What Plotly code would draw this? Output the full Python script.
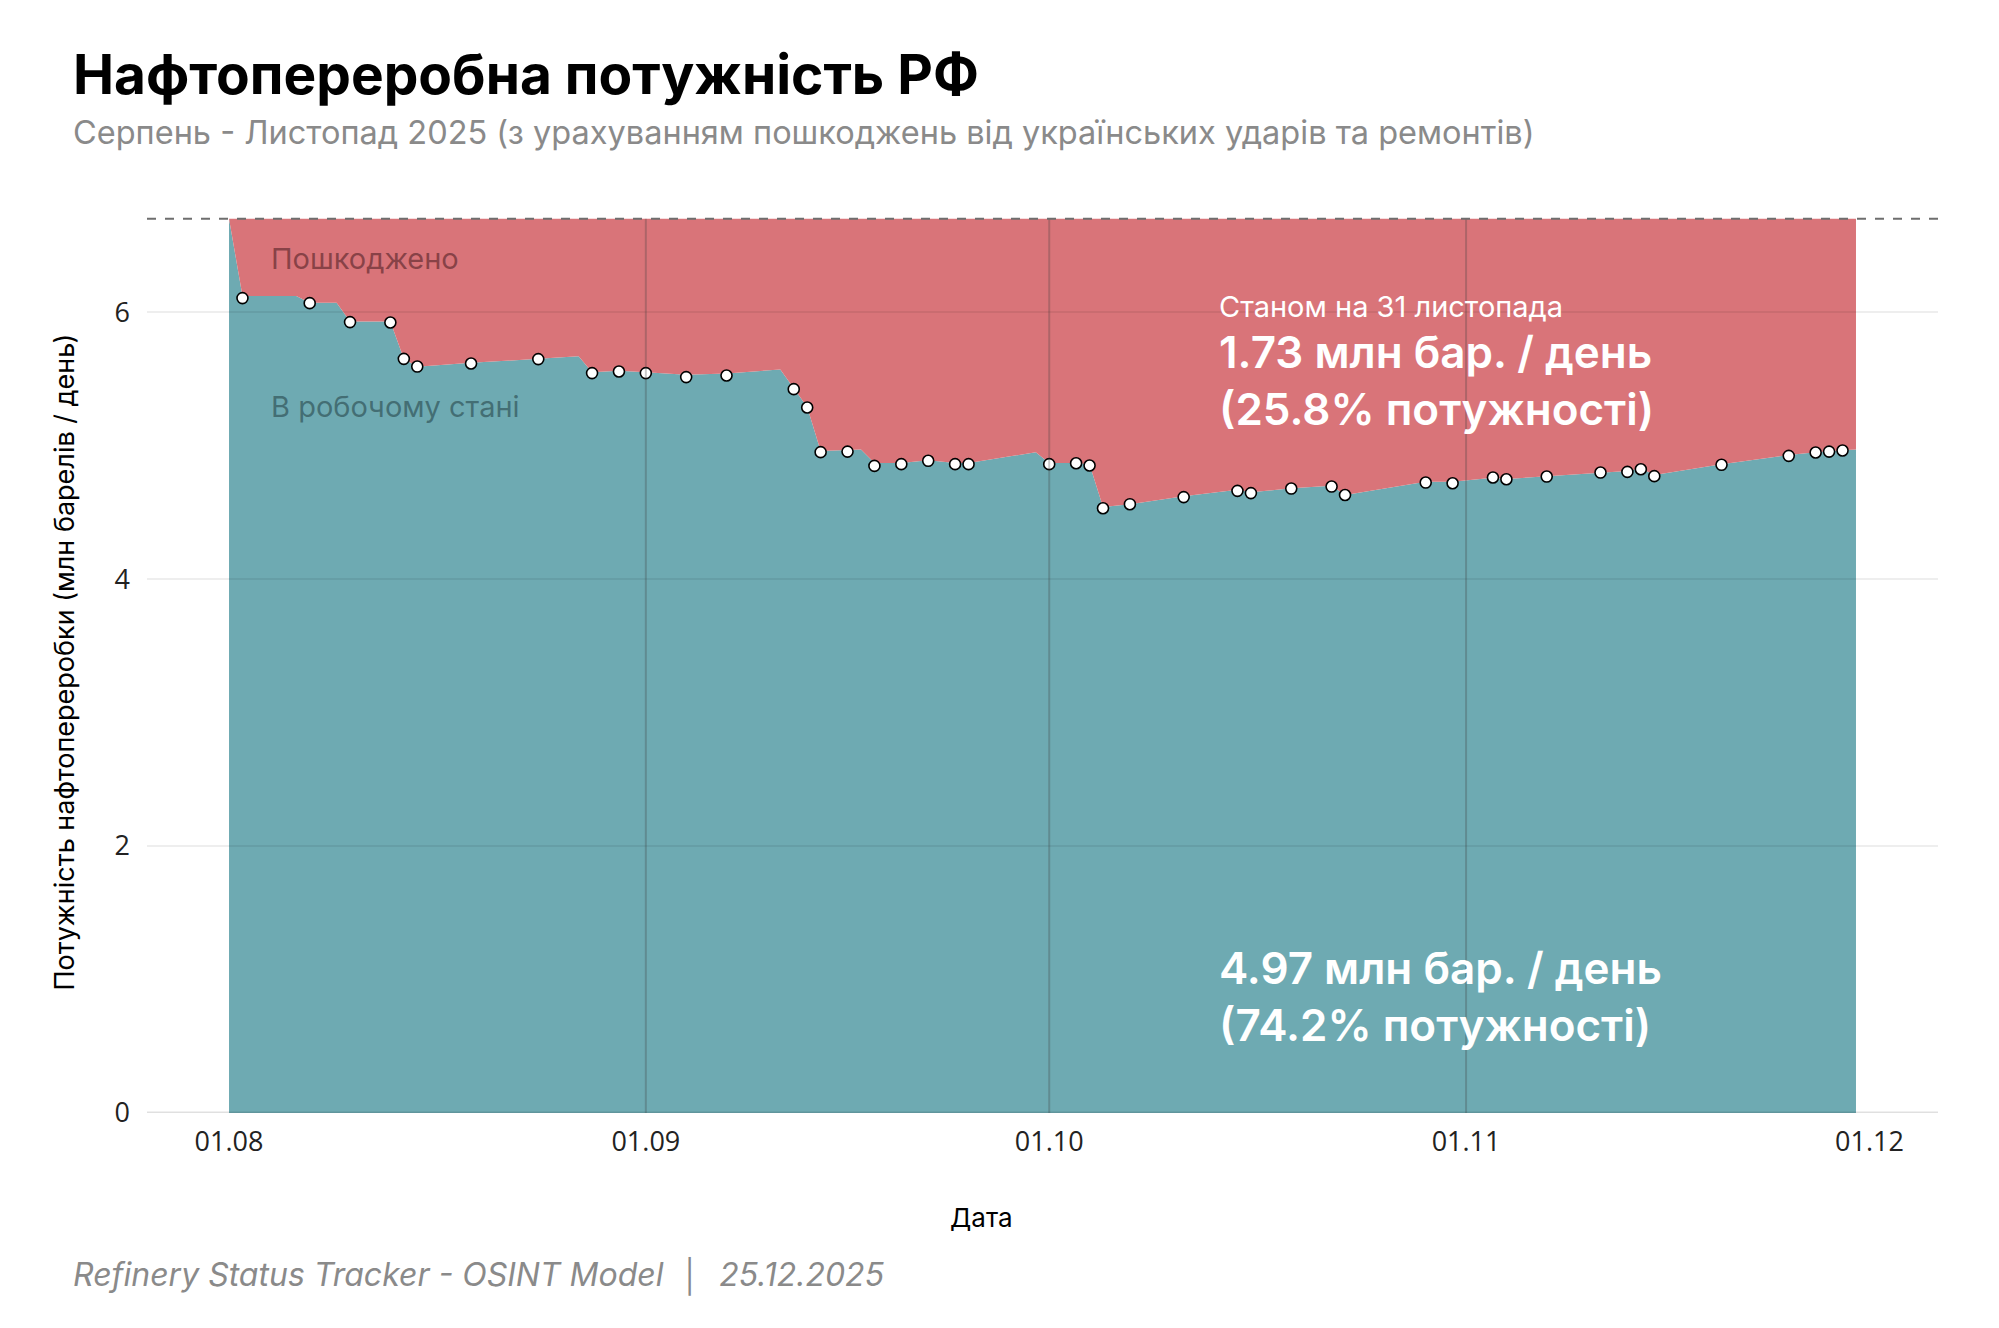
import plotly.graph_objects as go

# ---- data ----
CAPACITY = 6.70

AREA_DATES = [
    "2025-08-01", "2025-08-02", "2025-08-06", "2025-08-07", "2025-08-09", "2025-08-10",
    "2025-08-13", "2025-08-14", "2025-08-15", "2025-08-19", "2025-08-24", "2025-08-27",
    "2025-08-28", "2025-08-30", "2025-09-01", "2025-09-04", "2025-09-07", "2025-09-11",
    "2025-09-12", "2025-09-13", "2025-09-14", "2025-09-16", "2025-09-17", "2025-09-18",
    "2025-09-20", "2025-09-22", "2025-09-24", "2025-09-25", "2025-09-30", "2025-10-01",
    "2025-10-03", "2025-10-04", "2025-10-05", "2025-10-07", "2025-10-11", "2025-10-15",
    "2025-10-16", "2025-10-19", "2025-10-22", "2025-10-23", "2025-10-29", "2025-10-31",
    "2025-11-03", "2025-11-04", "2025-11-07", "2025-11-11", "2025-11-13", "2025-11-14",
    "2025-11-15", "2025-11-20", "2025-11-25", "2025-11-27", "2025-11-28", "2025-11-29",
    "2025-11-30",
]
AREA_VALUES = [
    6.70, 6.12, 6.12, 6.07, 6.07, 5.93,
    5.93, 5.65, 5.59, 5.62, 5.65, 5.67,
    5.55, 5.56, 5.55, 5.53, 5.54, 5.57,
    5.43, 5.29, 4.96, 4.97, 4.97, 4.87,
    4.87, 4.89, 4.87, 4.87, 4.95, 4.87,
    4.87, 4.86, 4.54, 4.56, 4.62, 4.67,
    4.65, 4.68, 4.70, 4.63, 4.73, 4.73,
    4.76, 4.75, 4.77, 4.80, 4.81, 4.83,
    4.78, 4.86, 4.93, 4.95, 4.96, 4.965,
    4.97,
]

MARKER_DATES = [
    "2025-08-02", "2025-08-07", "2025-08-10", "2025-08-13", "2025-08-14", "2025-08-15",
    "2025-08-19", "2025-08-24", "2025-08-28", "2025-08-30", "2025-09-01", "2025-09-04",
    "2025-09-07", "2025-09-12", "2025-09-13", "2025-09-14", "2025-09-16", "2025-09-18",
    "2025-09-20", "2025-09-22", "2025-09-24", "2025-09-25", "2025-10-01", "2025-10-03",
    "2025-10-04", "2025-10-05", "2025-10-07", "2025-10-11", "2025-10-15", "2025-10-16",
    "2025-10-19", "2025-10-22", "2025-10-23", "2025-10-29", "2025-10-31", "2025-11-03",
    "2025-11-04", "2025-11-07", "2025-11-11", "2025-11-13", "2025-11-14", "2025-11-15",
    "2025-11-20", "2025-11-25", "2025-11-27", "2025-11-28", "2025-11-29",
]
MARKER_VALUES = [
    6.105, 6.067, 5.925, 5.922, 5.650, 5.592,
    5.615, 5.648, 5.543, 5.555, 5.543, 5.513,
    5.525, 5.423, 5.285, 4.951, 4.955, 4.848,
    4.861, 4.886, 4.861, 4.861, 4.861, 4.868,
    4.851, 4.531, 4.561, 4.614, 4.661, 4.644,
    4.678, 4.693, 4.630, 4.723, 4.718, 4.761,
    4.748, 4.768, 4.798, 4.803, 4.823, 4.771,
    4.856, 4.923, 4.948, 4.955, 4.963,
]

MONTH_TICKS = ["2025-08-01", "2025-09-01", "2025-10-01", "2025-11-01", "2025-12-01"]
MONTH_LABELS = ["01.08", "01.09", "01.10", "01.11", "01.12"]
Y_TICKS = [0, 2, 4, 6]

TITLE = "Нафтопереробна потужність РФ"
SUBTITLE = "Серпень - Листопад 2025 (з урахуванням пошкоджень від українських ударів та ремонтів)"
LABEL_DAMAGED = "Пошкоджено"
LABEL_WORKING = "В робочому стані"
ASOF = "Станом на 31 листопада"
DAMAGED_TXT = "1.73 млн бар. / день<br>(25.8% потужності)"
WORKING_TXT = "4.97 млн бар. / день<br>(74.2% потужності)"
Y_TITLE = "Потужність нафтопереробки (млн барелів / день)"
X_TITLE = "Дата"
FOOTER = "Refinery Status Tracker - OSINT Model  │  25.12.2025"

TEAL = "rgb(110,170,178)"
RED = "rgb(217,116,121)"
FONT = "Inter"
TICKFONT = "Open Sans"

fig = go.Figure()
fig.add_trace(go.Scatter(
    x=AREA_DATES, y=AREA_VALUES, mode="lines", line=dict(width=0, color=TEAL),
    fill="tozeroy", fillcolor=TEAL, hoverinfo="skip", showlegend=False))
fig.add_trace(go.Scatter(
    x=AREA_DATES, y=[CAPACITY] * len(AREA_DATES), mode="lines", line=dict(width=0, color=RED),
    fill="tonexty", fillcolor=RED, hoverinfo="skip", showlegend=False))
fig.add_trace(go.Scatter(
    x=MARKER_DATES, y=MARKER_VALUES, mode="markers",
    marker=dict(size=11, color="white", line=dict(color="black", width=1.6)),
    showlegend=False))

shapes = []
for v in Y_TICKS[1:]:
    shapes.append(dict(type="line", xref="paper", x0=0, x1=1, yref="y", y0=v, y1=v,
                       line=dict(color="rgba(0,0,0,0.09)", width=1.5), layer="above"))
shapes.append(dict(type="line", xref="paper", x0=0, x1=1, yref="y", y0=0, y1=0,
                   line=dict(color="rgba(0,0,0,0.12)", width=3), layer="above"))
for d in MONTH_TICKS[1:4]:
    shapes.append(dict(type="line", xref="x", x0=d, x1=d, yref="y", y0=0, y1=CAPACITY,
                       line=dict(color="rgba(60,60,60,0.28)", width=2), layer="above"))
shapes.append(dict(type="line", xref="paper", x0=0, x1=1, yref="y", y0=CAPACITY, y1=CAPACITY,
                   line=dict(color="rgb(110,110,110)", width=2, dash="dash"), layer="above"))

annotations = [
    dict(text=TITLE, xref="paper", yref="paper", x=-0.0425, y=1.153,
         xanchor="left", yanchor="middle", showarrow=False,
         font=dict(family=FONT, size=55, color="black", weight=700)),
    dict(text=SUBTITLE, xref="paper", yref="paper", x=-0.0425, y=1.0877,
         xanchor="left", yanchor="middle", showarrow=False,
         font=dict(family=FONT, size=32.5, color="#8a8a8a")),
    dict(text=LABEL_DAMAGED, xref="x", yref="y", x="2025-08-04", y=6.40,
         xanchor="left", yanchor="middle", showarrow=False,
         font=dict(family=FONT, size=29, color="rgba(110,50,55,0.75)")),
    dict(text=LABEL_WORKING, xref="x", yref="y", x="2025-08-04", y=5.29,
         xanchor="left", yanchor="middle", showarrow=False,
         font=dict(family=FONT, size=29, color="rgba(60,100,105,0.85)")),
    dict(text=ASOF, xref="x", yref="y", x="2025-10-13 12:00", y=6.04,
         xanchor="left", yanchor="middle", showarrow=False,
         font=dict(family=FONT, size=29, color="white")),
    dict(text=DAMAGED_TXT, xref="x", yref="y", x="2025-10-13 12:00", y=5.49,
         xanchor="left", yanchor="middle", showarrow=False, align="left",
         font=dict(family=FONT, size=44, color="white", weight=600)),
    dict(text=WORKING_TXT, xref="x", yref="y", x="2025-10-13 12:00", y=0.87,
         xanchor="left", yanchor="middle", showarrow=False, align="left",
         font=dict(family=FONT, size=44, color="white", weight=600)),
    dict(text=Y_TITLE, xref="paper", yref="paper", x=-0.0463, y=0.5,
         xanchor="center", yanchor="middle", textangle=-90, showarrow=False,
         font=dict(family=FONT, size=27, color="black")),
    dict(text=X_TITLE, xref="paper", yref="paper", x=0.466, y=-0.116,
         xanchor="center", yanchor="middle", showarrow=False,
         font=dict(family=FONT, size=26, color="black")),
    dict(text=FOOTER, xref="paper", yref="paper", x=-0.0425, y=-0.1809,
         xanchor="left", yanchor="middle", showarrow=False,
         font=dict(family=FONT, size=32, color="#8a8a8a", style="italic")),
]

fig.update_layout(
    width=1999, height=1328,
    margin=dict(l=147, r=61, t=212, b=215),
    paper_bgcolor="white", plot_bgcolor="white",
    shapes=shapes, annotations=annotations,
    xaxis=dict(type="date", range=["2025-07-25 21:36", "2025-12-06 02:24"],
               tickvals=MONTH_TICKS, ticktext=MONTH_LABELS, showgrid=False,
               zeroline=False, showline=False, ticks="", ticklabelstandoff=10,
               tickfont=dict(family=TICKFONT, size=27, color="#222")),
    yaxis=dict(range=[0, 6.75], tickvals=Y_TICKS, showgrid=False, zeroline=False,
               showline=False, ticks="", ticklabelstandoff=16,
               tickfont=dict(family=TICKFONT, size=27, color="#222")),
    hovermode=False,
)

fig.write_html("out.html")
